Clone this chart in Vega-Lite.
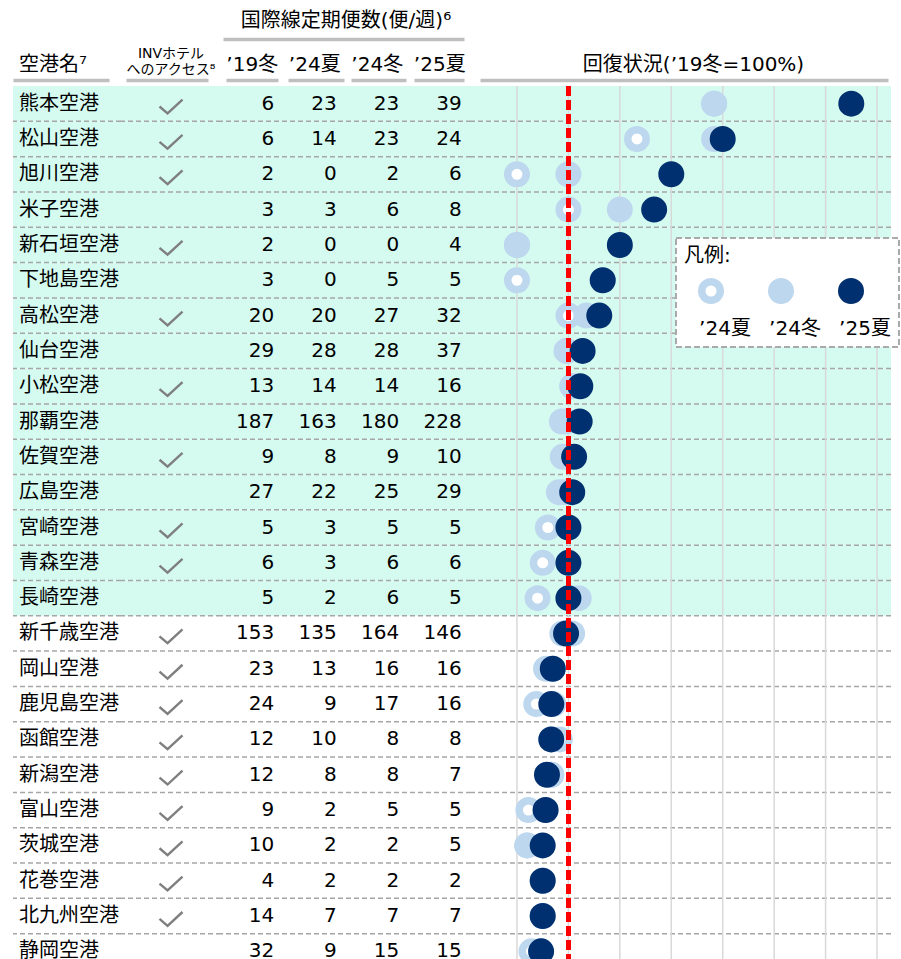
{
  "$schema": "https://vega.github.io/schema/vega-lite/v6.json",
  "background": "white",
  "padding": {"left": 12, "top": 10, "right": 0, "bottom": 0},
  "spacing": 0,
  "bounds": "flush",
  "config": {
    "view": {"stroke": null},
    "font": "DejaVu Sans, Noto Sans CJK JP",
    "concat": {"spacing": 0},
    "legend": {"strokeDash": [6, 3], "strokeWidth": 2},
    "style": {"guide-label": {"lineHeight": 28}}
  },
  "datasets": {
    "airports": [
      {"name": "熊本空港", "inv": true, "hl": true, "w19": 6, "s24": 23, "w24": 23, "s25": 39, "p24s": 383.3, "p24w": 383.3, "p25s": 650.0},
      {"name": "松山空港", "inv": true, "hl": true, "w19": 6, "s24": 14, "w24": 23, "s25": 24, "p24s": 233.3, "p24w": 383.3, "p25s": 400.0},
      {"name": "旭川空港", "inv": true, "hl": true, "w19": 2, "s24": 0, "w24": 2, "s25": 6, "p24s": 0.0, "p24w": 100.0, "p25s": 300.0},
      {"name": "米子空港", "inv": false, "hl": true, "w19": 3, "s24": 3, "w24": 6, "s25": 8, "p24s": 100.0, "p24w": 200.0, "p25s": 266.7},
      {"name": "新石垣空港", "inv": true, "hl": true, "w19": 2, "s24": 0, "w24": 0, "s25": 4, "p24s": 0.0, "p24w": 0.0, "p25s": 200.0},
      {"name": "下地島空港", "inv": false, "hl": true, "w19": 3, "s24": 0, "w24": 5, "s25": 5, "p24s": 0.0, "p24w": 166.7, "p25s": 166.7},
      {"name": "高松空港", "inv": true, "hl": true, "w19": 20, "s24": 20, "w24": 27, "s25": 32, "p24s": 100.0, "p24w": 135.0, "p25s": 160.0},
      {"name": "仙台空港", "inv": false, "hl": true, "w19": 29, "s24": 28, "w24": 28, "s25": 37, "p24s": 96.6, "p24w": 96.6, "p25s": 127.6},
      {"name": "小松空港", "inv": true, "hl": true, "w19": 13, "s24": 14, "w24": 14, "s25": 16, "p24s": 107.7, "p24w": 107.7, "p25s": 123.1},
      {"name": "那覇空港", "inv": false, "hl": true, "w19": 187, "s24": 163, "w24": 180, "s25": 228, "p24s": 87.2, "p24w": 96.3, "p25s": 121.9},
      {"name": "佐賀空港", "inv": true, "hl": true, "w19": 9, "s24": 8, "w24": 9, "s25": 10, "p24s": 88.9, "p24w": 100.0, "p25s": 111.1},
      {"name": "広島空港", "inv": false, "hl": true, "w19": 27, "s24": 22, "w24": 25, "s25": 29, "p24s": 81.5, "p24w": 92.6, "p25s": 107.4},
      {"name": "宮崎空港", "inv": true, "hl": true, "w19": 5, "s24": 3, "w24": 5, "s25": 5, "p24s": 60.0, "p24w": 100.0, "p25s": 100.0},
      {"name": "青森空港", "inv": true, "hl": true, "w19": 6, "s24": 3, "w24": 6, "s25": 6, "p24s": 50.0, "p24w": 100.0, "p25s": 100.0},
      {"name": "長崎空港", "inv": false, "hl": true, "w19": 5, "s24": 2, "w24": 6, "s25": 5, "p24s": 40.0, "p24w": 120.0, "p25s": 100.0},
      {"name": "新千歳空港", "inv": true, "hl": false, "w19": 153, "s24": 135, "w24": 164, "s25": 146, "p24s": 88.2, "p24w": 107.2, "p25s": 95.4},
      {"name": "岡山空港", "inv": true, "hl": false, "w19": 23, "s24": 13, "w24": 16, "s25": 16, "p24s": 56.5, "p24w": 69.6, "p25s": 69.6},
      {"name": "鹿児島空港", "inv": true, "hl": false, "w19": 24, "s24": 9, "w24": 17, "s25": 16, "p24s": 37.5, "p24w": 70.8, "p25s": 66.7},
      {"name": "函館空港", "inv": true, "hl": false, "w19": 12, "s24": 10, "w24": 8, "s25": 8, "p24s": 83.3, "p24w": 66.7, "p25s": 66.7},
      {"name": "新潟空港", "inv": true, "hl": false, "w19": 12, "s24": 8, "w24": 8, "s25": 7, "p24s": 66.7, "p24w": 66.7, "p25s": 58.3},
      {"name": "富山空港", "inv": true, "hl": false, "w19": 9, "s24": 2, "w24": 5, "s25": 5, "p24s": 22.2, "p24w": 55.6, "p25s": 55.6},
      {"name": "茨城空港", "inv": true, "hl": false, "w19": 10, "s24": 2, "w24": 2, "s25": 5, "p24s": 20.0, "p24w": 20.0, "p25s": 50.0},
      {"name": "花巻空港", "inv": true, "hl": false, "w19": 4, "s24": 2, "w24": 2, "s25": 2, "p24s": 50.0, "p24w": 50.0, "p25s": 50.0},
      {"name": "北九州空港", "inv": true, "hl": false, "w19": 14, "s24": 7, "w24": 7, "s25": 7, "p24s": 50.0, "p24w": 50.0, "p25s": 50.0},
      {"name": "静岡空港", "inv": false, "hl": false, "w19": 32, "s24": 9, "w24": 15, "s25": 15, "p24s": 28.1, "p24w": 46.9, "p25s": 46.9}
    ],
    "gridlines": [
      {"g": 0}, {"g": 100}, {"g": 200}, {"g": 300}, {"g": 400}, {"g": 500}, {"g": 600}, {"g": 700}
    ]
  },
  "hconcat": [
    {
      "width": 108,
      "height": 883,
      "data": {"name": "airports"},
      "layer": [
        {
          "mark": {"type": "rect"},
          "encoding": {
            "y": {"field": "name", "type": "nominal", "sort": null, "axis": null, "scale": {"paddingInner": 0, "paddingOuter": 0}},
            "fill": {"condition": {"test": "datum.hl", "value": "#d5fbf0"}, "value": "transparent"}
          }
        },
        {
          "mark": {"type": "rule", "stroke": "#a6a6a6", "strokeWidth": 1.5, "strokeDash": [5, 3]},
          "encoding": {
            "y": {"field": "name", "type": "nominal", "sort": null, "axis": null, "bandPosition": 1, "scale": {"paddingInner": 0, "paddingOuter": 0}}
          }
        },
        {
          "mark": {"type": "text", "align": "left", "baseline": "middle", "dx": 6, "fontSize": 20, "color": "#000000"},
          "encoding": {
            "y": {"field": "name", "type": "nominal", "sort": null, "axis": null, "scale": {"paddingInner": 0, "paddingOuter": 0}},
            "x": {
              "datum": "空港名⁷", "type": "nominal", "bandPosition": 0,
              "scale": {"type": "band", "paddingInner": 0, "paddingOuter": 0},
              "axis": {
                "orient": "top", "title": null, "offset": 6,
                "ticks": false, "tickSize": 0, "grid": false,
                "domain": true, "domainColor": "#bfbfbf", "domainWidth": 3.5, "domainDash": [96, 100],
                "labelAlign": "left", "labelOffset": -48, "labelPadding": 6, "labelFontSize": 20, "labelColor": "#000000", "labelAngle": 0
              }
            },
            "text": {"field": "name"}
          }
        }
      ]
    },
    {
      "width": 100,
      "height": 883,
      "data": {"name": "airports"},
      "layer": [
        {
          "mark": {"type": "rect"},
          "encoding": {
            "y": {"field": "name", "type": "nominal", "sort": null, "axis": null, "scale": {"paddingInner": 0, "paddingOuter": 0}},
            "fill": {"condition": {"test": "datum.hl", "value": "#d5fbf0"}, "value": "transparent"}
          }
        },
        {
          "mark": {"type": "rule", "stroke": "#a6a6a6", "strokeWidth": 1.5, "strokeDash": [5, 3]},
          "encoding": {
            "y": {"field": "name", "type": "nominal", "sort": null, "axis": null, "bandPosition": 1, "scale": {"paddingInner": 0, "paddingOuter": 0}}
          }
        },
        {
          "mark": {
            "type": "point", "shape": "M-1,0.25L-0.3,0.85L1,-0.35", "size": 529,
            "filled": false, "stroke": "#7f7f7f", "strokeWidth": 2.4, "strokeJoin": "miter", "strokeCap": "butt"
          },
          "encoding": {
            "y": {"field": "name", "type": "nominal", "sort": null, "axis": null, "scale": {"paddingInner": 0, "paddingOuter": 0}},
            "x": {
              "datum": "INVホテルへのアクセス⁸", "type": "nominal",
              "scale": {"type": "band", "paddingInner": 0, "paddingOuter": 0},
              "axis": {
                "orient": "top", "title": null, "offset": 6,
                "ticks": false, "tickSize": 0, "grid": false,
                "domain": true, "domainColor": "#bfbfbf", "domainWidth": 3.5, "domainDash": [0, 5, 82, 100],
                "labelExpr": "['INVホテル', 'へのアクセス⁸']",
                "labelBaseline": "middle", "labelLineHeight": 16, "labelPadding": 27, "labelFontSize": 14, "labelColor": "#000000", "labelAngle": 0
              }
            },
            "opacity": {"condition": {"test": "datum.inv", "value": 1}, "value": 0}
          }
        }
      ]
    },
    {
      "width": 250,
      "height": 883,
      "data": {"name": "airports"},
      "resolve": {"scale": {"x": "independent"}, "axis": {"x": "independent"}},
      "layer": [
        {
          "mark": {"type": "rect"},
          "encoding": {
            "y": {"field": "name", "type": "nominal", "sort": null, "axis": null, "scale": {"paddingInner": 0, "paddingOuter": 0}},
            "x": {
              "datum": "国際線定期便数(便/週)⁶", "type": "nominal",
              "scale": {"type": "band", "paddingInner": 0, "paddingOuter": 0},
              "axis": {
                "orient": "top", "title": null, "offset": 47,
                "ticks": false, "tickSize": 0, "grid": false,
                "domain": true, "domainColor": "#bfbfbf", "domainWidth": 3.5, "domainDash": [0, 2, 241, 100],
                "labelPadding": 9, "labelFontSize": 20, "labelColor": "#000000", "labelAngle": 0, "labelLimit": 400
              }
            },
            "fill": {"condition": {"test": "datum.hl", "value": "#d5fbf0"}, "value": "transparent"}
          }
        },
        {
          "mark": {"type": "rule", "stroke": "#a6a6a6", "strokeWidth": 1.5, "strokeDash": [5, 3]},
          "encoding": {
            "y": {"field": "name", "type": "nominal", "sort": null, "axis": null, "bandPosition": 1, "scale": {"paddingInner": 0, "paddingOuter": 0}}
          }
        },
        {
          "transform": [{"fold": ["w19", "s24", "w24", "s25"], "as": ["col", "n"]}],
          "mark": {"type": "text", "align": "right", "baseline": "middle", "dx": 22, "fontSize": 20, "color": "#000000"},
          "encoding": {
            "y": {"field": "name", "type": "nominal", "sort": null, "axis": null, "scale": {"paddingInner": 0, "paddingOuter": 0}},
            "x": {
              "field": "col", "type": "nominal",
              "scale": {"type": "band", "domain": ["w19", "s24", "w24", "s25"], "paddingInner": 0, "paddingOuter": 0},
              "axis": {
                "orient": "top", "title": null, "offset": 6,
                "ticks": false, "tickSize": 0, "grid": false,
                "domain": true, "domainColor": "#bfbfbf", "domainWidth": 3.5, "domainDash": [0, 5, 52, 10, 56, 7, 55, 8, 50, 100],
                "labelExpr": "datum.value == 'w19' ? '’19冬' : datum.value == 's24' ? '’24夏' : datum.value == 'w24' ? '’24冬' : '’25夏'",
                "labelPadding": 6, "labelFontSize": 20, "labelColor": "#000000", "labelAngle": 0
              }
            },
            "text": {"field": "n", "type": "quantitative", "format": "d"}
          }
        }
      ]
    },
    {
      "width": 420,
      "height": 883,
      "layer": [
        {
          "data": {"name": "airports"},
          "mark": {"type": "rect"},
          "encoding": {
            "y": {"field": "name", "type": "nominal", "sort": null, "axis": null, "scale": {"paddingInner": 0, "paddingOuter": 0}},
            "fill": {"condition": {"test": "datum.hl", "value": "#d5fbf0"}, "value": "transparent"}
          }
        },
        {
          "data": {"name": "airports"},
          "mark": {"type": "rule", "stroke": "#a6a6a6", "strokeWidth": 1.5, "strokeDash": [5, 3]},
          "encoding": {
            "y": {"field": "name", "type": "nominal", "sort": null, "axis": null, "bandPosition": 1, "scale": {"paddingInner": 0, "paddingOuter": 0}}
          }
        },
        {
          "data": {"name": "gridlines"},
          "mark": {"type": "rule", "stroke": "#d9d9d9", "strokeWidth": 1.5},
          "encoding": {
            "x": {"field": "g", "type": "quantitative"}
          }
        },
        {
          "data": {"name": "airports"},
          "transform": [{"fold": ["p24s", "p24w", "p25s"], "as": ["series", "pct"]}],
          "mark": {"type": "circle", "size": 342, "strokeWidth": 7.5, "opacity": 1},
          "encoding": {
            "y": {"field": "name", "type": "nominal", "sort": null, "axis": null, "scale": {"paddingInner": 0, "paddingOuter": 0}},
            "x": {
              "field": "pct", "type": "quantitative",
              "scale": {"domain": [-89.4, 727.2], "nice": false, "zero": false},
              "axis": {
                "orient": "top", "offset": 6,
                "grid": false, "labels": false, "ticks": false, "tickSize": 0,
                "domain": true, "domainColor": "#bfbfbf", "domainWidth": 3.5, "domainDash": [0, 9, 408, 100],
                "title": "回復状況(’19冬=100%)", "titleFontSize": 20, "titleFontWeight": "normal", "titleColor": "#000000",
                "titlePadding": 6, "titleX": 222
              }
            },
            "fill": {
              "field": "series", "type": "nominal",
              "scale": {"domain": ["p24s", "p24w", "p25s"], "range": ["#ffffff", "#bdd7ee", "#00306f"]},
              "legend": {
                "orient": "none", "legendX": 663, "legendY": 152,
                "direction": "horizontal", "columns": 3,
                "title": "凡例:", "titleFontSize": 20, "titleFontWeight": "normal", "titleColor": "#000000", "titlePadding": 12,
                "symbolType": "circle", "symbolSize": 342, "symbolStrokeWidth": 7.5, "symbolOffset": 14,
                "labelExpr": "['', datum.label == 'p24s' ? '’24夏' : datum.label == 'p24w' ? '’24冬' : '’25夏']",
                "labelAlign": "center", "labelBaseline": "top", "labelOffset": 1, "labelFontSize": 20, "labelColor": "#000000", "labelLimit": 200,
                "columnPadding": 3,
                "fillColor": "#ffffff", "strokeColor": "#aaaaaa", "padding": 8,
                "zindex": 5
              }
            },
            "stroke": {
              "field": "series", "type": "nominal",
              "scale": {"domain": ["p24s", "p24w", "p25s"], "range": ["#bdd7ee", "#bdd7ee", "#00306f"]},
              "legend": {
                "orient": "none", "legendX": 663, "legendY": 152,
                "direction": "horizontal", "columns": 3,
                "title": "凡例:", "titleFontSize": 20, "titleFontWeight": "normal", "titleColor": "#000000", "titlePadding": 12,
                "symbolType": "circle", "symbolSize": 342, "symbolStrokeWidth": 7.5, "symbolOffset": 14,
                "labelExpr": "['', datum.label == 'p24s' ? '’24夏' : datum.label == 'p24w' ? '’24冬' : '’25夏']",
                "labelAlign": "center", "labelBaseline": "top", "labelOffset": 1, "labelFontSize": 20, "labelColor": "#000000", "labelLimit": 200,
                "columnPadding": 3,
                "fillColor": "#ffffff", "strokeColor": "#aaaaaa", "padding": 8,
                "zindex": 5
              }
            }
          }
        },
        {
          "data": {"name": "airports"},
          "mark": {"type": "rule", "stroke": "#ff0000", "strokeWidth": 3.5, "strokeDash": [10, 4]},
          "encoding": {"x": {"datum": 100}}
        }
      ]
    }
  ]
}
